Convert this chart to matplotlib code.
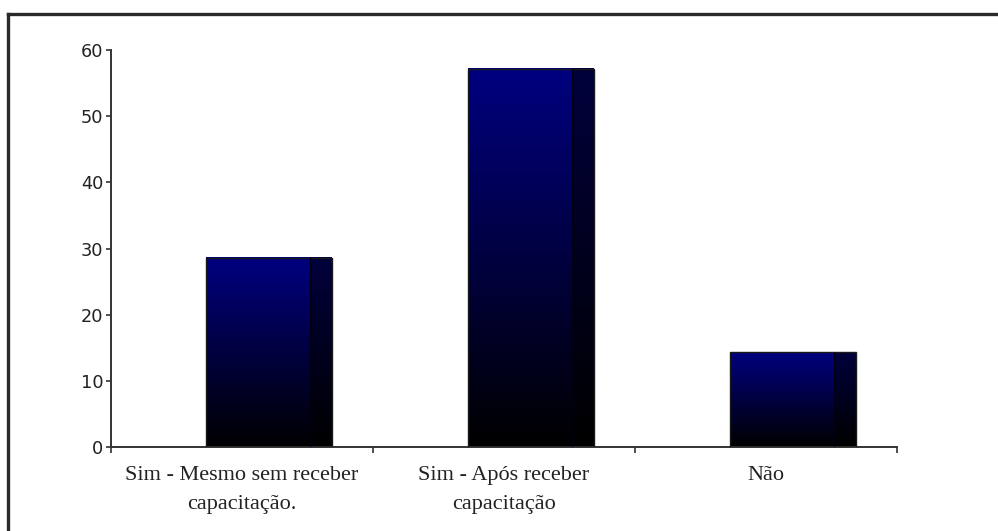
import numpy as np
import matplotlib.pyplot as plt
from matplotlib.colors import LinearSegmentedColormap
from matplotlib.patches import Rectangle
from matplotlib.lines import Line2D

##data (percent of answers)
categories = ["Sim - Mesmo sem receber\ncapacitação.", "Sim - Após receber\ncapacitação", "Não"]
values = [28.57, 57.14, 14.29]
yticks = [0, 10, 20, 30, 40, 50, 60]

##colour ramps for the front and the dark side strip of each bar
frontMap = LinearSegmentedColormap.from_list("front", ["#000000", "#000040", "#000080"])
sideMap = LinearSegmentedColormap.from_list("side", ["#000000", "#00003c"])

fig = plt.figure(figsize=(9.98, 5.31), dpi=100)
ax = fig.add_axes([0.1112, 0.1582, 0.7876, 0.7476])

ramp = np.linspace(0, 1, 256).reshape(-1, 1)
frontOffset = -0.137
frontWidth = 0.398
sideWidth = 0.083

for i, val in enumerate(values):
    x0 = i + frontOffset
    x1 = x0 + frontWidth
    x2 = x1 + sideWidth
    ax.imshow(ramp, cmap=frontMap, origin="lower", aspect="auto",
              extent=[x0, x1, 0, val], zorder=2, interpolation="bilinear")
    ax.imshow(ramp, cmap=sideMap, origin="lower", aspect="auto",
              extent=[x1, x2, 0, val], zorder=2, interpolation="bilinear")
    ax.add_patch(Rectangle((x0, 0), x2 - x0, val, fill=False, edgecolor="#1a1a1a", linewidth=1.0, zorder=3))
    ax.plot([x1, x1], [0, val], color="#000010", linewidth=0.8, zorder=3)

ax.set_xlim(-0.5, 2.5)
ax.set_ylim(0, 60)

##axes styling
for side in ["top", "right"]:
    ax.spines[side].set_visible(False)
ax.spines["left"].set_color("#333333")
ax.spines["bottom"].set_color("#333333")
ax.spines["left"].set_linewidth(1.4)
ax.spines["bottom"].set_linewidth(1.4)

ax.set_yticks(yticks)
ax.set_yticklabels([str(t) for t in yticks], fontsize=12.8, family="DejaVu Sans", color="#222222")
ax.tick_params(axis="y", length=3.5, width=1.2, pad=2, color="#333333")

ax.set_xticks([-0.5, 0.5, 1.5, 2.5])
ax.set_xticklabels([])
ax.tick_params(axis="x", which="major", length=4.5, width=1.2, color="#333333")
ax.set_xticks(range(len(categories)), minor=True)
ax.set_xticklabels(categories, minor=True, fontsize=16, family="Liberation Serif",
                   color="#222222", linespacing=1.7)
ax.tick_params(axis="x", which="minor", length=0, pad=14)

##frame around the picture (only top and left are visible)
fig.add_artist(Line2D([0.008, 1.0], [0.9736, 0.9736], transform=fig.transFigure, color="#2a2a2a", linewidth=2.4))
fig.add_artist(Line2D([0.008, 0.008], [0.0, 0.9736], transform=fig.transFigure, color="#2a2a2a", linewidth=2.4))

fig.savefig("out.png", dpi=100)
